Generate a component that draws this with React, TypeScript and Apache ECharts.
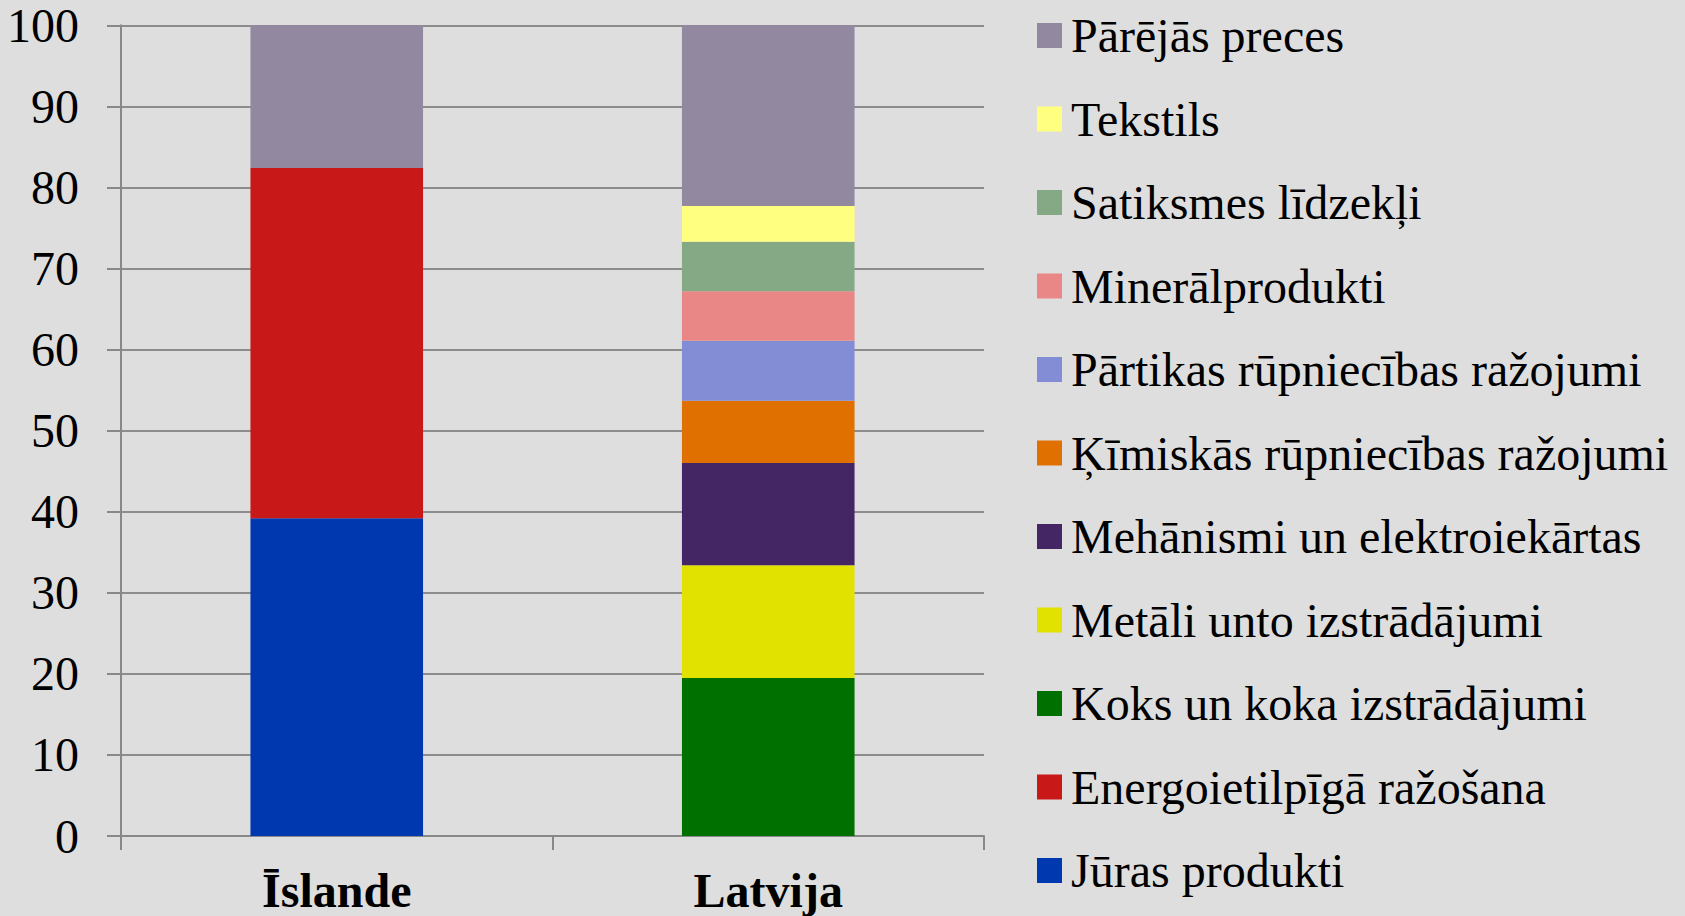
import React, { useEffect, useRef } from "react";
import * as echarts from "echarts";

const categories = ["Īslande", "Latvija"];

// stacking order, bottom to top
const seriesNames = [
  "Jūras produkti",
  "Energoietilpīgā ražošana",
  "Koks un koka izstrādājumi",
  "Metāli unto izstrādājumi",
  "Mehānismi un elektroiekārtas",
  "Ķīmiskās rūpniecības ražojumi",
  "Pārtikas rūpniecības ražojumi",
  "Minerālprodukti",
  "Satiksmes līdzekļi",
  "Tekstils",
  "Pārējās preces",
];

const islandeValues = [39.2, 43.2, null, null, null, null, null, null, null, null, 17.6];
const latvijaValues = [null, null, 19.5, 13.9, 12.6, 7.7, 7.4, 6.1, 6.1, 4.4, 22.3];

const seriesColors = [
  "#0038B0",
  "#C81818",
  "#007000",
  "#E2E200",
  "#452664",
  "#E07000",
  "#838DD5",
  "#E98786",
  "#85A984",
  "#FFFF80",
  "#9288A0",
];

const yTicks = { min: 0, max: 100, interval: 10 };

const FONT = "Liberation Serif";

export default function App() {
  const ref = useRef<HTMLDivElement>(null);

  useEffect(() => {
    if (!ref.current) return;
    const chart = echarts.init(ref.current, null, { renderer: "svg" });
    const option = {
      animation: false,
      backgroundColor: "#DEDEDE",
      textStyle: { fontFamily: FONT, color: "#000" },
      grid: { left: 121, right: 701, top: 25.3, bottom: 80, containLabel: false },
      legend: {
        orient: "vertical",
        left: 1037,
        top: 11.5,
        padding: 0,
        // square marker plus an invisible speck that widens the icon box
        icon: "path://M0 0H25V25H0ZM29 0H29.01V0.01H29Z",
        itemWidth: 29,
        itemHeight: 25,
        itemGap: 35.5,
        data: [...seriesNames].reverse(),
        textStyle: {
          fontFamily: FONT,
          fontSize: 48,
          color: "#000",
        },
      },
      xAxis: {
        type: "category",
        data: categories,
        axisLine: { show: true, lineStyle: { color: "#888888", width: 2 } },
        axisTick: { show: true, length: 14, lineStyle: { color: "#888888", width: 2 } },
        axisLabel: {
          fontFamily: FONT,
          fontSize: 48,
          fontWeight: "bold",
          color: "#000",
          margin: 30,
        },
      },
      yAxis: {
        type: "value",
        min: yTicks.min,
        max: yTicks.max,
        interval: yTicks.interval,
        axisLine: { show: true, lineStyle: { color: "#888888", width: 2 } },
        axisTick: { show: true, length: 14, lineStyle: { color: "#888888", width: 2 } },
        splitLine: { show: true, lineStyle: { color: "#8C8C8C", width: 2 } },
        axisLabel: { fontFamily: FONT, fontSize: 48, color: "#000", margin: 42 },
      },
      series: seriesNames.map((name, i) => ({
        name,
        type: "bar",
        stack: "total",
        barWidth: "40%",
        itemStyle: { color: seriesColors[i] },
        data: [islandeValues[i], latvijaValues[i]],
      })),
    };
    chart.setOption(option as any);
    return () => chart.dispose();
  }, []);

  return (
    <div
      ref={ref}
      style={{ position: "absolute", left: 0, top: 0, width: 1685, height: 916 }}
    />
  );
}
